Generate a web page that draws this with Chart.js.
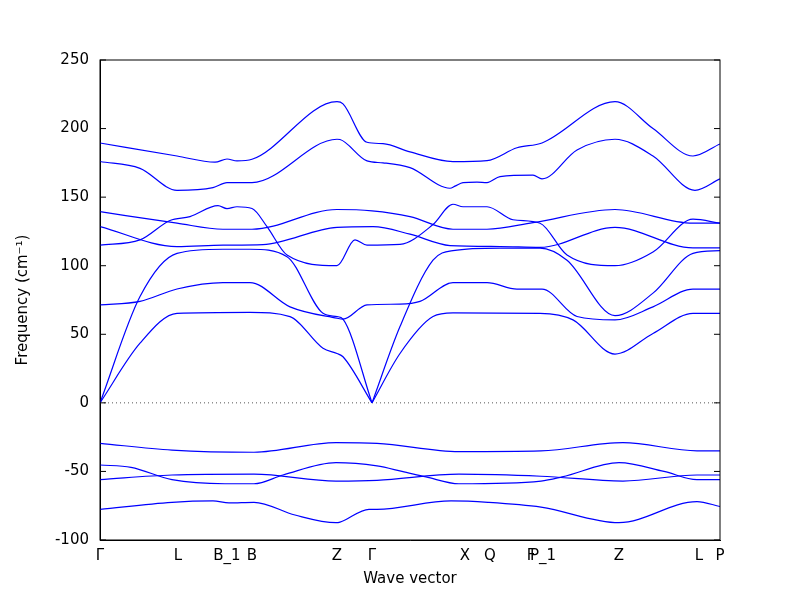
<!DOCTYPE html>
<html>
<head>
<meta charset="utf-8">
<script src="https://cdn.jsdelivr.net/npm/chart.js@4"></script>
<style>body{margin:0;background:#fff}#c{width:800px;height:600px}</style>
</head>
<body>
<div id="c"><canvas id="bands" width="800" height="600"></canvas></div>
<script>
// path positions of the high-symmetry points (same units as the band x values)
var tickPos = [0, 78, 127, 152, 237, 272, 365, 390, 431, 443, 519, 599, 620];
var tickLabels = ["Γ", "L", "B_1", "B", "Z", "Γ", "X", "Q", "F", "P_1", "Z", "L", "P"];

// bands: [x, frequency] pairs
var band1 = [[0,189.5],[77,180],[115,175.5],[127,177.8],[137,176.4],[152,177.6],[237,219.6],[243,218],[267,190],[283,189],[310,183],[353,175.9],[387,176.6],[417,186],[442,189.5],[515,219.6],[553,200],[593,180],[620,188.8]];
var band2 = [[0,176],[40,171],[77,155],[113,157],[127,160.6],[152,160.6],[237,192.2],[240,192],[267,176.4],[283,175],[310,171.5],[350,156.5],[355,158],[363,160.6],[377,161],[387,160.6],[400,165],[433,166],[442,163.3],[477,184.4],[515,192.2],[553,180],[595,155],[620,163.3]];
var band3 = [[0,139.4],[77,131],[123,126.6],[152,126.6],[237,141],[272,140],[310,135.8],[353,126.6],[387,126.6],[433,131.4],[515,141],[593,131],[620,131]];
var band4 = [[0,128.5],[77,113.9],[123,115],[163,115.4],[237,128],[273,128.5],[310,123],[350,114.7],[400,114],[440,113.4],[515,127.9],[593,113],[620,113]];
var band5 = [[0,115],[40,118.8],[70,133],[90,135.8],[118,143.8],[127,141.7],[137,143],[152,141.7],[167,128.5],[187,107.8],[237,100],[255,118.8],[267,115],[300,115.6],[333,130],[353,144.8],[363,143],[387,143],[413,133.5],[440,131],[467,107.8],[515,100],[553,110],[593,133.9],[620,131]];
var band6 = [[0,0],[40,77.5],[77,109],[123,112],[150,112],[187,106.6],[223,65.3],[237,62.9],[243,61],[272,0],[300,55.6],[333,104],[353,111],[400,112.8],[440,112.8],[467,104],[515,63.6],[553,80],[593,109],[620,111]];
var band7 = [[0,71.4],[40,74],[77,83],[123,87.7],[150,87.7],[190,70],[237,61.7],[243,61],[267,71.4],[300,72],[320,74],[353,87.7],[387,87.7],[417,83],[442,83],[477,63],[515,60.5],[553,70],[593,83],[620,83]];
var band8 = [[0,0],[40,43.5],[77,65.3],[150,66],[190,62.9],[223,39.8],[237,36],[243,33.6],[272,0],[300,36],[333,62.9],[353,65.6],[440,65.3],[473,60.5],[515,35.6],[553,50.6],[593,65.3],[620,65.3]];
var band9 = [[0,-29.5],[72,-34.4],[154,-36],[236,-29],[277,-29.5],[359,-35.5],[441,-35],[523,-29],[597,-35],[620,-35]];
var band10 = [[0,-45.3],[31,-47],[72,-56],[125,-59],[154,-59],[183,-52.6],[236,-43.6],[277,-46],[302,-50],[326,-54],[359,-59],[441,-57],[462,-54],[519,-43.6],[564,-50],[597,-56],[620,-56]];
var band11 = [[0,-56],[72,-52.6],[154,-52],[236,-57],[277,-56.5],[359,-52],[441,-53.5],[523,-57],[597,-52.6],[620,-52.6]];
var band12 = [[0,-77.6],[72,-72.5],[113,-71.5],[129,-73],[154,-72.5],[195,-81.8],[236,-87.4],[240,-87],[269,-77.6],[277,-77.6],[351,-71.5],[388,-72.5],[441,-76],[519,-87.4],[597,-72],[620,-75.6]];
var zeroLine = [[0,0],[620,0]];

var allBands = [band1, band2, band3, band4, band5, band6, band7, band8, band9, band10, band11, band12];
// the acoustic branches have a sharp cusp at the second Γ point
var cuspAt = 272;

function toPts(arr) {
    return arr.map(function (p) { return {x: p[0], y: p[1]}; });
}

var datasets = [];
allBands.forEach(function (b) {
    var parts = [b];
    var k = b.findIndex(function (p) { return p[0] === cuspAt && p[1] === 0; });
    if (k > 0) parts = [b.slice(0, k + 1), b.slice(k)];
    parts.forEach(function (part) {
        datasets.push({
            data: toPts(part),
            borderColor: '#0000ff',
            borderWidth: 1.2,
            pointRadius: 0,
            showLine: true,
            cubicInterpolationMode: 'monotone'
        });
    });
});
datasets.push({
    data: toPts(zeroLine),
    borderColor: '#555',
    borderWidth: 1,
    borderDash: [1, 3],
    pointRadius: 0,
    showLine: true
});

new Chart("bands", {
    type: 'scatter',
    data: {datasets: datasets},
    options: {
        responsive: false,
        animation: false,
        layout: {padding: {top: 60, right: 80, left: 14, bottom: 12}},
        plugins: {legend: {display: false}, tooltip: {enabled: false}},
        scales: {
            x: {
                type: 'linear',
                min: 0,
                max: 620,
                afterBuildTicks: function (s) {
                    s.ticks = tickPos.map(function (v) { return {value: v}; });
                },
                afterFit: function (s) { s.height = 48; },
                ticks: {
                    autoSkip: false,
                    maxRotation: 0,
                    color: '#000',
                    font: {family: 'DejaVu Sans', size: 15},
                    callback: function (v, i) { return tickLabels[i]; }
                },
                grid: {display: false, drawTicks: true, tickLength: 4},
                border: {color: '#000', width: 1},
                title: {display: true, text: 'Wave vector', color: '#000', font: {family: 'DejaVu Sans', size: 15}, padding: 0}
            },
            y: {
                min: -100,
                max: 250,
                afterFit: function (s) { s.width = 86; },
                ticks: {stepSize: 50, color: '#000', font: {family: 'DejaVu Sans', size: 15}},
                grid: {display: false},
                border: {color: '#000', width: 1},
                title: {display: true, text: 'Frequency (cm⁻¹)', color: '#000', font: {family: 'DejaVu Sans', size: 15}, padding: 0}
            }
        }
    },
    plugins: [{
        id: 'frame',
        afterDraw: function (chart) {
            var a = chart.chartArea, ctx = chart.ctx;
            ctx.save();
            ctx.strokeStyle = '#000';
            ctx.lineWidth = 1;
            ctx.strokeRect(a.left, a.top, a.right - a.left, a.bottom - a.top);
            // y ticks on both sides, pointing inward
            chart.scales.y.ticks.forEach(function (t) {
                var y = chart.scales.y.getPixelForValue(t.value);
                ctx.beginPath();
                ctx.moveTo(a.left, y); ctx.lineTo(a.left + 6, y);
                ctx.moveTo(a.right, y); ctx.lineTo(a.right - 6, y);
                ctx.stroke();
            });
            ctx.restore();
        }
    }]
});
</script>
</body>
</html>
